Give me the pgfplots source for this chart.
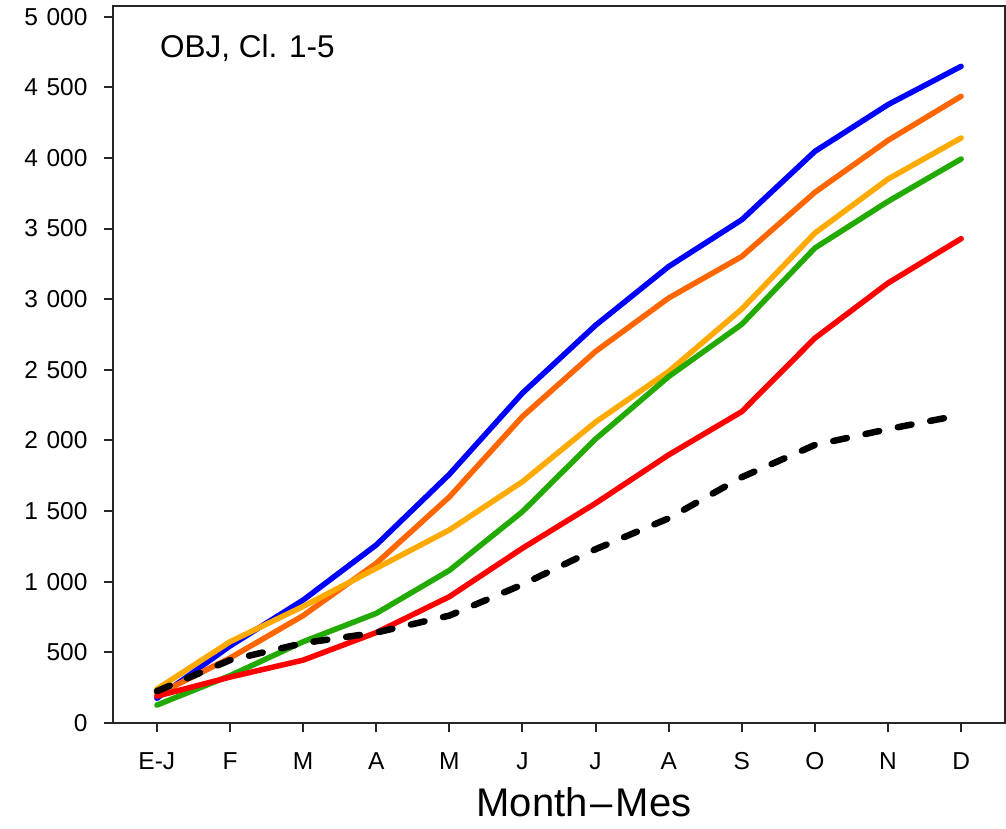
\documentclass[border=0pt]{standalone}
\usepackage{fontspec}
\setmainfont{Liberation Sans}
\usepackage{pgfplots}
\pgfplotsset{compat=1.18}
\definecolor{cblue}{RGB}{0,0,255}
\definecolor{corange}{RGB}{255,102,0}
\definecolor{cyellow}{RGB}{255,170,0}
\definecolor{cgreen}{RGB}{34,170,0}
\definecolor{cred}{RGB}{255,0,0}
\begin{document}
\begin{tikzpicture}
\begin{axis}[
  scale only axis,
  width=892pt, height=717pt,
  xmin=-0.6, xmax=11.6,
  ymin=0, ymax=5075,
  axis line style={line width=2pt, black!85},
  tick style={line width=2pt, black!85},
  tick align=outside,
  major tick length=9pt,
  xtick={0,...,11},
  xticklabels={E-J,F,M,A,M,J,J,A,S,O,N,D},
  ytick={0,500,...,5000},
  yticklabels={0,500,1\kern0.35em 000,1\kern0.35em 500,2\kern0.35em 000,2\kern0.35em 500,3\kern0.35em 000,3\kern0.35em 500,4\kern0.35em 000,4\kern0.35em 500,5\kern0.35em 000},
  xtick pos=bottom, ytick pos=left,
  tick label style={font=\fontsize{24.5}{28}\selectfont, black},
  yticklabel style={xshift=-13pt},
  xticklabel style={yshift=-17pt},
  xlabel={Month\kern3pt--\kern3pt Mes},
  xlabel style={font=\fontsize{40}{46}\selectfont, xshift=25pt, yshift=-11pt},
  every axis plot/.append style={line width=5.5pt, line join=round, line cap=round},
]
\addplot[cblue] coordinates {(0,175) (1,545) (2,870) (3,1260) (4,1760) (5,2335) (6,2815) (7,3231) (8,3562) (9,4046) (10,4377) (11,4648)};
\addplot[corange] coordinates {(0,200) (1,460) (2,760) (3,1130) (4,1600) (5,2169) (6,2630) (7,3008) (8,3302) (9,3756) (10,4124) (11,4436)};
\addplot[cyellow] coordinates {(0,240) (1,575) (2,825) (3,1095) (4,1366) (5,1708) (6,2130) (7,2488) (8,2930) (9,3468) (10,3850) (11,4141)};
\addplot[cgreen] coordinates {(0,127) (1,335) (2,575) (3,776) (4,1080) (5,1496) (6,2010) (7,2452) (8,2822) (9,3362) (10,3692) (11,3992)};
\addplot[cred] coordinates {(0,190) (1,325) (2,445) (3,640) (4,894) (5,1237) (6,1555) (7,1898) (8,2204) (9,2724) (10,3114) (11,3428)};
\addplot[black, line width=6.5pt, dash pattern=on 14pt off 19pt] coordinates {(0,225) (1,445) (2,565) (3,640) (4,760) (5,980) (6,1230) (7,1449) (8,1740) (9,1968) (10,2080) (11,2181)};
\node[anchor=north west, inner sep=0pt, font=\fontsize{31.5}{36}\selectfont] at (rel axis cs:0.0527,0.9596) {OBJ, Cl. 1-5};
\end{axis}
\path ([xshift=-113pt,yshift=-105pt]current axis.south west) rectangle ([xshift=1pt,yshift=6pt]current axis.north east);
\end{tikzpicture}
\end{document}
